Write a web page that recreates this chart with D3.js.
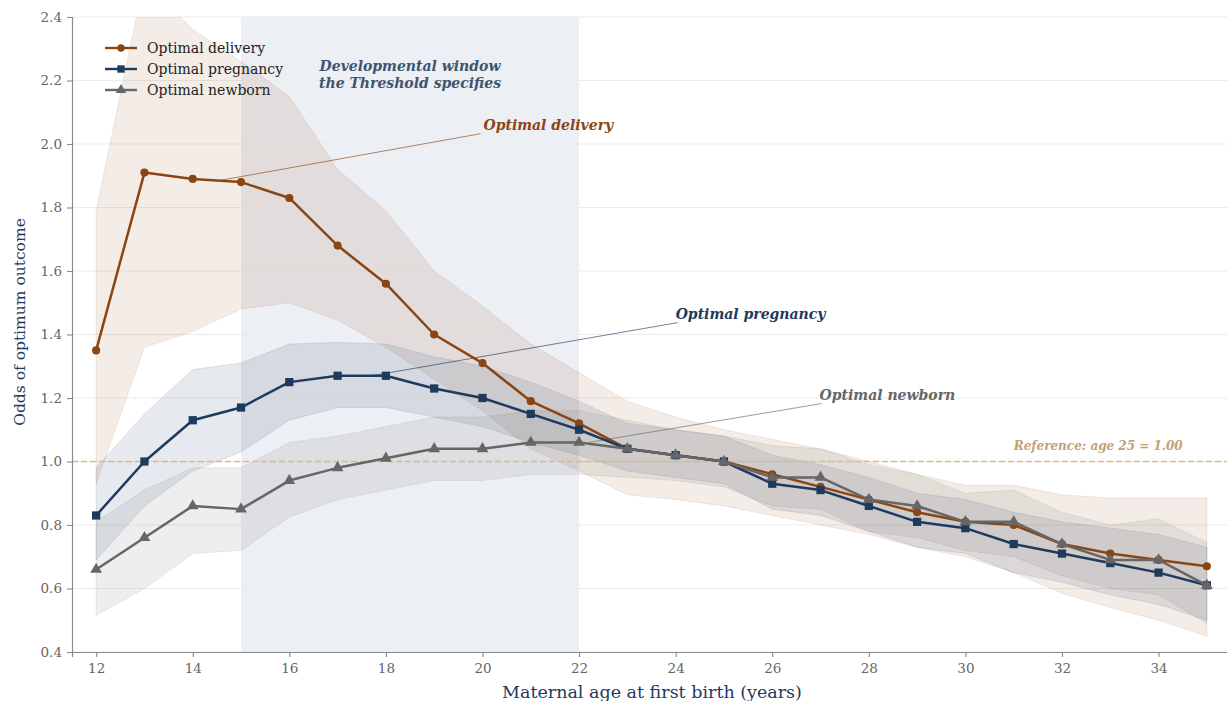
<!DOCTYPE html>
<html>
<head>
<meta charset="utf-8">
<script src="https://cdn.jsdelivr.net/npm/d3@7"></script>
<style>
  html, body { margin: 0; padding: 0; background: #fff; }
  svg { display: block; font-family: "DejaVu Serif", serif; }
</style>
</head>
<body>
<svg id="chart" width="1227" height="701"></svg>
<script>
// ---------- data ----------
const ages = [12,13,14,15,16,17,18,19,20,21,22,23,24,25,26,27,28,29,30,31,32,33,34,35];

const deliveryOR = [1.35,1.91,1.89,1.88,1.83,1.68,1.56,1.40,1.31,1.19,1.12,1.04,1.02,1.00,0.96,0.92,0.88,0.84,0.81,0.80,0.74,0.71,0.69,0.67];
const deliveryLo = [0.93,1.36,1.41,1.48,1.50,1.445,1.36,1.26,1.16,1.04,0.97,0.895,0.88,0.86,0.83,0.80,0.77,0.73,0.70,0.65,0.585,0.54,0.50,0.45];
const deliveryHi = [1.79,2.52,2.36,2.26,2.15,1.92,1.79,1.60,1.49,1.37,1.28,1.19,1.14,1.10,1.07,1.04,1.00,0.96,0.925,0.925,0.895,0.885,0.885,0.885];

const pregnancyOR = [0.83,1.00,1.13,1.17,1.25,1.27,1.27,1.23,1.20,1.15,1.10,1.04,1.02,1.00,0.93,0.91,0.86,0.81,0.79,0.74,0.71,0.68,0.65,0.61];
const pregnancyLo = [0.69,0.86,0.97,1.03,1.13,1.17,1.17,1.14,1.11,1.06,1.02,0.97,0.95,0.93,0.85,0.83,0.78,0.73,0.71,0.65,0.62,0.58,0.55,0.50];
const pregnancyHi = [0.98,1.15,1.29,1.31,1.37,1.375,1.37,1.33,1.30,1.25,1.19,1.12,1.10,1.08,1.02,0.99,0.95,0.90,0.88,0.84,0.81,0.79,0.77,0.73];

const newbornOR = [0.66,0.76,0.86,0.85,0.94,0.98,1.01,1.04,1.04,1.06,1.06,1.04,1.02,1.00,0.95,0.95,0.88,0.86,0.81,0.81,0.74,0.69,0.69,0.61];
const newbornLo = [0.515,0.60,0.71,0.72,0.825,0.88,0.91,0.94,0.94,0.96,0.96,0.95,0.94,0.92,0.86,0.85,0.78,0.76,0.72,0.70,0.64,0.60,0.58,0.49];
const newbornHi = [0.81,0.91,0.98,0.98,1.06,1.08,1.11,1.14,1.14,1.16,1.16,1.13,1.10,1.08,1.05,1.04,0.99,0.96,0.90,0.91,0.84,0.80,0.82,0.745];

const seriesNames = ["Optimal delivery","Optimal pregnancy","Optimal newborn"];
const xTicks = [12,14,16,18,20,22,24,26,28,30,32,34];
const yTicks = [0.4,0.6,0.8,1.0,1.2,1.4,1.6,1.8,2.0,2.2,2.4];
const windowRange = [15, 22];
const referenceValue = 1.0;
// annotation anchors: [age, value] on the series, and label position [age, value]
const annotAnchors = [[14.55,1.885],[17.7,1.27],[22.2,1.06]];
const annotLabels  = [[20.02,2.045],[24.0,1.45],[26.98,1.195]];

// ---------- layout ----------
const svg = d3.select("#chart");
const x = d3.scaleLinear().domain([11.5, 35.5]).range([72, 1231]);
const y = d3.scaleLinear().domain([0.4, 2.4]).range([652, 17]);

const colors = ["#8b4513", "#1f3a5f", "#666666"];
const bandFill = ["rgba(139,69,19,0.10)", "rgba(31,58,95,0.11)", "rgba(102,102,102,0.11)"];
const series = [
  {name: seriesNames[0], v: deliveryOR, lo: deliveryLo, hi: deliveryHi, sym: d3.symbolCircle, size: 52},
  {name: seriesNames[1], v: pregnancyOR, lo: pregnancyLo, hi: pregnancyHi, sym: d3.symbolSquare, size: 68},
  {name: seriesNames[2], v: newbornOR, lo: newbornLo, hi: newbornHi, sym: d3.symbolTriangle, size: 60}
];

svg.append("defs").append("clipPath").attr("id","plotclip")
  .append("rect").attr("x", x.range()[0]).attr("y", y(2.4))
  .attr("width", x.range()[1]-x.range()[0]).attr("height", y(0.4)-y(2.4));

// developmental window
svg.append("rect")
  .attr("x", x(windowRange[0])).attr("y", y(2.4))
  .attr("width", x(windowRange[1]) - x(windowRange[0]))
  .attr("height", y(0.4) - y(2.4))
  .attr("fill", "rgba(40,75,115,0.085)");

// gridlines
svg.append("g").selectAll("line").data(yTicks).join("line")
  .attr("x1", x.range()[0]).attr("x2", x.range()[1])
  .attr("y1", d => y(d)).attr("y2", d => y(d))
  .attr("stroke", "#ebebeb").attr("stroke-width", 1);

// bands
const plot = svg.append("g").attr("clip-path","url(#plotclip)");
series.forEach((s, i) => {
  const area = d3.area()
    .x((d, j) => x(ages[j]))
    .y0((d, j) => y(s.lo[j]))
    .y1((d, j) => y(s.hi[j]));
  plot.append("path").datum(s.v).attr("d", area)
    .attr("fill", bandFill[i])
    .attr("stroke", bandFill[i]).attr("stroke-width", 1);
});

// reference line
svg.append("line")
  .attr("x1", x.range()[0]).attr("x2", x.range()[1])
  .attr("y1", y(referenceValue)).attr("y2", y(referenceValue))
  .attr("stroke", "#d9b990").attr("stroke-width", 1.3)
  .attr("stroke-dasharray", "6,3");
svg.append("text")
  .attr("x", x(34.5)).attr("y", y(referenceValue) - 12)
  .attr("text-anchor", "end")
  .attr("font-size", 12).attr("font-weight", "bold").attr("font-style", "italic")
  .attr("fill", "#bfa276")
  .text("Reference: age 25 = 1.00");

// window label
const wl = svg.append("text")
  .attr("x", x(18.5)).attr("text-anchor", "middle")
  .attr("font-size", 14).attr("font-weight", "bold").attr("font-style", "italic")
  .attr("fill", "#3e5470");
wl.append("tspan").attr("x", x(18.5)).attr("y", 71).text("Developmental window");
wl.append("tspan").attr("x", x(18.5)).attr("y", 88).text("the Threshold specifies");

// annotation leader lines
series.forEach((s, i) => {
  svg.append("line")
    .attr("x1", x(annotAnchors[i][0])).attr("y1", y(annotAnchors[i][1]))
    .attr("x2", x(annotLabels[i][0]) + (i === 0 ? -3 : 2)).attr("y2", y(annotLabels[i][1]) + 4)
    .attr("stroke", colors[i]).attr("stroke-width", 0.9).attr("opacity", 0.7);
});

// lines + markers
series.forEach((s, i) => {
  const line = d3.line().x((d, j) => x(ages[j])).y(d => y(d));
  svg.append("path").datum(s.v).attr("d", line)
    .attr("fill", "none").attr("stroke", colors[i]).attr("stroke-width", 2.5)
    .attr("stroke-linejoin", "round");
  svg.append("g").selectAll("path").data(s.v).join("path")
    .attr("transform", (d, j) => `translate(${x(ages[j])},${y(d)})`)
    .attr("d", d3.symbol().type(s.sym).size(s.size))
    .attr("fill", colors[i]);
});

// annotation labels
series.forEach((s, i) => {
  svg.append("text")
    .attr("x", x(annotLabels[i][0])).attr("y", y(annotLabels[i][1]))
    .attr("font-size", 14).attr("font-weight", "bold").attr("font-style", "italic")
    .attr("fill", colors[i])
    .text(s.name);
});

// axes
const xAxis = svg.append("g").attr("transform", `translate(0,${y(0.4)})`)
  .call(d3.axisBottom(x).tickValues(xTicks).tickSize(5).tickPadding(6).tickFormat(d3.format("d")));
const yAxis = svg.append("g").attr("transform", `translate(${x.range()[0]},0)`)
  .call(d3.axisLeft(y).tickValues(yTicks).tickSize(5).tickPadding(5).tickFormat(d3.format(".1f")));
[xAxis, yAxis].forEach(a => {
  a.select(".domain").attr("stroke", "#8a8a8a").attr("stroke-width", 1.2);
  a.selectAll(".tick line").attr("stroke", "#8a8a8a").attr("stroke-width", 1.1);
  a.selectAll(".tick text").attr("fill", "#666").attr("font-size", 13.5)
    .attr("font-family", "DejaVu Serif, serif");
});

svg.append("text")
  .attr("x", 652).attr("y", 698).attr("text-anchor", "middle")
  .attr("font-size", 17.5).attr("fill", "#1f3a5f")
  .text("Maternal age at first birth (years)");
svg.append("text")
  .attr("transform", `translate(25,322) rotate(-90)`).attr("text-anchor", "middle")
  .attr("font-size", 15.5).attr("fill", "#1f3a5f")
  .text("Odds of optimum outcome");

// legend
const leg = svg.append("g").attr("transform", "translate(105,48)");
series.forEach((s, i) => {
  const g = leg.append("g").attr("transform", `translate(0,${i*21})`);
  g.append("line").attr("x1", 0).attr("x2", 32).attr("stroke", colors[i]).attr("stroke-width", 2.4);
  g.append("path").attr("transform", "translate(16,0)")
    .attr("d", d3.symbol().type(s.sym).size(s.size*0.8)).attr("fill", colors[i]);
  g.append("text").attr("x", 42).attr("y", 5).attr("font-size", 14).attr("fill", "#222").text(s.name);
});
</script>
</body>
</html>
